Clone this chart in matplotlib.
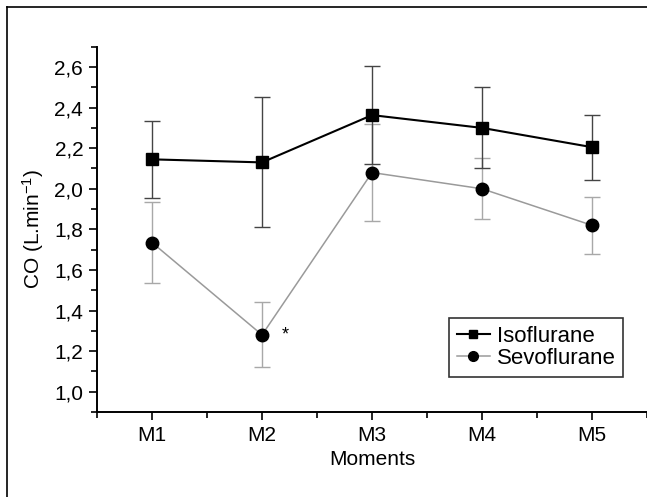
import numpy as np
import matplotlib.pyplot as plt
from matplotlib.patches import Rectangle
from matplotlib.lines import Line2D
from matplotlib.ticker import MultipleLocator, FuncFormatter

plt.rcParams['font.family'] = ['Liberation Sans', 'DejaVu Sans']
plt.rcParams['mathtext.fontset'] = 'custom'
plt.rcParams['mathtext.rm'] = 'Liberation Sans'
plt.rcParams['mathtext.it'] = 'Liberation Sans'

moments = ['M1', 'M2', 'M3', 'M4', 'M5']
iso_mean = [2.145, 2.13, 2.363, 2.30, 2.205]
iso_sd = [0.19, 0.32, 0.24, 0.20, 0.16]
sevo_mean = [1.735, 1.28, 2.08, 2.00, 1.82]
sevo_sd = [0.20, 0.16, 0.24, 0.15, 0.14]

x = np.arange(1, len(moments) + 1)

fig = plt.figure(figsize=(6.47, 4.97), dpi=100)
ax = fig.add_axes([0.150, 0.171, 0.850, 0.735])

# border around the figure, open to the right and bottom
fig.add_artist(Line2D([7 / 647, 7 / 647], [0, 1 - 7 / 497], transform=fig.transFigure,
                      color='black', lw=1.2))
fig.add_artist(Line2D([7 / 647, 1], [1 - 7 / 497, 1 - 7 / 497], transform=fig.transFigure,
                      color='black', lw=1.2))

ax.errorbar(x, sevo_mean, yerr=sevo_sd, color='#9a9a9a', lw=1.1,
            marker='o', ms=9, mfc='black', mec='black',
            ecolor='#a8a8a8', elinewidth=1.0, capsize=5.5, capthick=1.0, zorder=2)
ax.errorbar(x, iso_mean, yerr=iso_sd, color='black', lw=1.5,
            marker='s', ms=8, mfc='black', mec='black',
            ecolor='#444444', elinewidth=1.0, capsize=5.5, capthick=1.0, zorder=3)

ax.text(x[1] + 0.21, sevo_mean[1], '*', fontsize=13, ha='center', va='center')

ax.set_xlim(0.5, 5.5)
ax.set_ylim(0.9, 2.7)
ax.set_xticks(x)
ax.set_xticklabels(moments)
ax.xaxis.set_minor_locator(MultipleLocator(1, offset=0.5))
ax.set_yticks(np.arange(1.0, 2.61, 0.2))
ax.yaxis.set_minor_locator(MultipleLocator(0.1))
ax.yaxis.set_major_formatter(FuncFormatter(lambda v, p: f'{v:.1f}'.replace('.', ',')))

for s in ['top', 'right']:
    ax.spines[s].set_visible(False)
for s in ['left', 'bottom']:
    ax.spines[s].set_linewidth(1.4)

ax.tick_params(which='major', direction='out', length=6, width=1.2, labelsize=15, pad=4)
ax.tick_params(which='minor', direction='out', length=4, width=1.2)

ax.set_xlabel('Moments', fontsize=15, labelpad=4)
ax.set_ylabel('CO (L.min$^{-1}$)', fontsize=15, labelpad=6)

handles = [Line2D([], [], color='black', lw=1.5, marker='s', ms=6),
           Line2D([], [], color='#9a9a9a', lw=1.1, marker='o', ms=7,
                  mfc='black', mec='black')]
leg = ax.legend(handles, ['Isoflurane', 'Sevoflurane'], loc='upper left',
                bbox_to_anchor=(449 / 647, 1 - 318 / 497), bbox_transform=fig.transFigure,
                fontsize=16, frameon=True, fancybox=False, handlelength=1.5,
                handletextpad=0.3, borderpad=0.35, labelspacing=0.05, borderaxespad=0)
leg.get_frame().set_edgecolor('black')
leg.get_frame().set_linewidth(1.2)

fig.savefig('out.png', dpi=100)
